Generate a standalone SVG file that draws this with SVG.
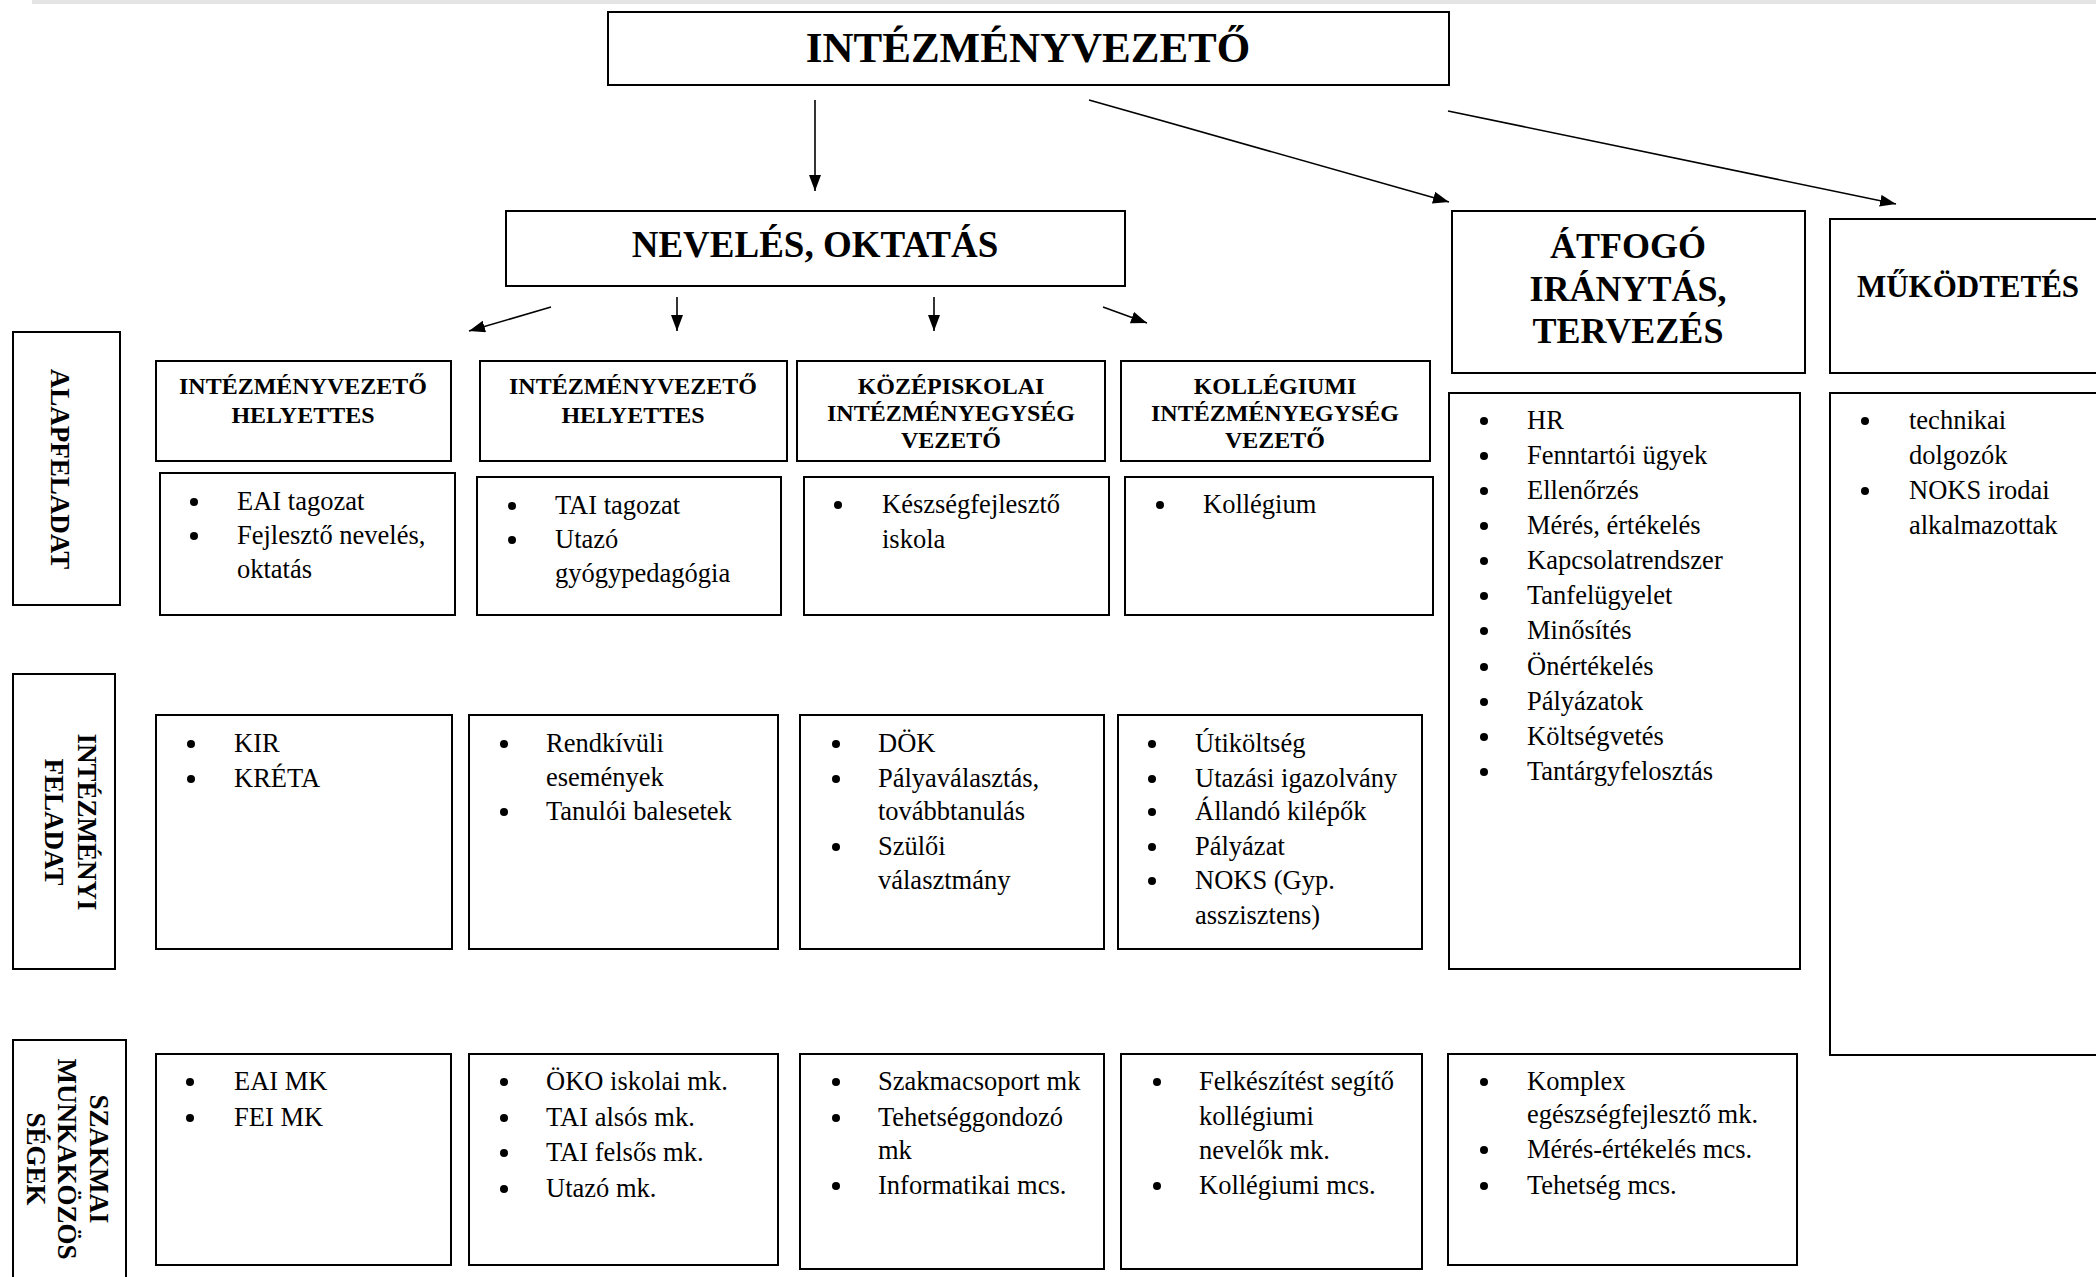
<svg xmlns="http://www.w3.org/2000/svg" width="2096" height="1277" viewBox="0 0 2096 1277">
<defs>
<style>
.box{fill:#fff;stroke:#000;stroke-width:2}
.t{font-family:"Liberation Serif","Times New Roman",serif;fill:#000}
.h{font-weight:bold;text-anchor:middle}
.body{font-size:26.5px}
.lbl{font-family:"Liberation Serif","Times New Roman",serif;font-weight:bold;font-size:27px;text-anchor:middle;fill:#000}
.c{stroke:#000;stroke-width:1.6;fill:none;marker-end:url(#ah)}
.b{fill:#000}
</style>
<marker id="ah" markerUnits="userSpaceOnUse" markerWidth="18" markerHeight="14" refX="16" refY="6" orient="auto">
<path d="M0,0 L16,6 L0,12 z" fill="#000"/>
</marker>
</defs>
<rect width="2096" height="1277" fill="#fff"/>
<rect x="32" y="0" width="2064" height="4" fill="#e4e4e4"/>

<g id="connectors">
<line class="c" x1="815" y1="100" x2="815" y2="191"/>
<line class="c" x1="1089" y1="100" x2="1449" y2="202"/>
<line class="c" x1="1448" y1="111" x2="1896" y2="204"/>
<line class="c" x1="551" y1="307" x2="469" y2="331"/>
<line class="c" x1="677" y1="297" x2="677" y2="331"/>
<line class="c" x1="934" y1="297" x2="934" y2="331"/>
<line class="c" x1="1103" y1="307" x2="1147" y2="323"/>
</g>

<g id="intezmenyvezeto">
<rect class="box" x="608" y="12" width="841" height="73"/>
<text class="t h" x="1028" y="62" font-size="43">INTÉZMÉNYVEZETŐ</text>
</g>
<g id="neveles">
<rect class="box" x="506" y="211" width="619" height="75"/>
<text class="t h" x="815" y="257" font-size="37">NEVELÉS, OKTATÁS</text>
</g>
<g id="atfogo">
<rect class="box" x="1452" y="211" width="353" height="162"/>
<text class="t h" x="1628" y="258" font-size="36">ÁTFOGÓ</text>
<text class="t h" x="1628" y="301" font-size="36">IRÁNYTÁS,</text>
<text class="t h" x="1628" y="343" font-size="36">TERVEZÉS</text>
</g>
<g id="mukodtetes">
<rect class="box" x="1830" y="219" width="290" height="154"/>
<text class="t h" x="1968" y="297" font-size="31">MŰKÖDTETÉS</text>
</g>

<g id="label-alapfeladat">
<rect class="box" x="13" y="332" width="107" height="273"/>
<text class="lbl" transform="translate(51,469) rotate(90)">ALAPFELADAT</text>
</g>
<g id="label-intezmenyi">
<rect class="box" x="13" y="674" width="102" height="295"/>
<text class="lbl" transform="translate(78,822) rotate(90)">INTÉZMÉNYI</text>
<text class="lbl" transform="translate(45,822) rotate(90)">FELADAT</text>
</g>
<g id="label-szakmai">
<rect class="box" x="13" y="1040" width="113" height="260"/>
<text class="lbl" transform="translate(90,1159) rotate(90)">SZAKMAI</text>
<text class="lbl" transform="translate(58,1159) rotate(90)">MUNKAKÖZÖS</text>
<text class="lbl" transform="translate(27,1159) rotate(90)">SÉGEK</text>
</g>

<g id="hdr1">
<rect class="box" x="156" y="361" width="295" height="100"/>
<text class="t h" x="303" y="394" font-size="24">INTÉZMÉNYVEZETŐ</text>
<text class="t h" x="303" y="423" font-size="24">HELYETTES</text>
</g>
<g id="hdr2">
<rect class="box" x="480" y="361" width="307" height="100"/>
<text class="t h" x="633" y="394" font-size="24">INTÉZMÉNYVEZETŐ</text>
<text class="t h" x="633" y="423" font-size="24">HELYETTES</text>
</g>
<g id="hdr3">
<rect class="box" x="797" y="361" width="308" height="100"/>
<text class="t h" x="951" y="394" font-size="24">KÖZÉPISKOLAI</text>
<text class="t h" x="951" y="421" font-size="24">INTÉZMÉNYEGYSÉG</text>
<text class="t h" x="951" y="448" font-size="24">VEZETŐ</text>
</g>
<g id="hdr4">
<rect class="box" x="1121" y="361" width="309" height="100"/>
<text class="t h" x="1275" y="394" font-size="24">KOLLÉGIUMI</text>
<text class="t h" x="1275" y="421" font-size="24">INTÉZMÉNYEGYSÉG</text>
<text class="t h" x="1275" y="448" font-size="24">VEZETŐ</text>
</g>

<g id="alap1">
<rect class="box" x="160" y="473" width="295" height="142"/>
<circle class="b" cx="194" cy="502" r="4"/><circle class="b" cx="194" cy="536" r="4"/>
<text class="t body" x="237" y="510">EAI tagozat</text>
<text class="t body" x="237" y="544">Fejlesztő nevelés,</text>
<text class="t body" x="237" y="578">oktatás</text>
</g>
<g id="alap2">
<rect class="box" x="477" y="477" width="304" height="138"/>
<circle class="b" cx="512" cy="506" r="4"/><circle class="b" cx="512" cy="540" r="4"/>
<text class="t body" x="555" y="514">TAI tagozat</text>
<text class="t body" x="555" y="548">Utazó</text>
<text class="t body" x="555" y="582">gyógypedagógia</text>
</g>
<g id="alap3">
<rect class="box" x="804" y="477" width="305" height="138"/>
<circle class="b" cx="838" cy="505" r="4"/>
<text class="t body" x="882" y="513">Készségfejlesztő</text>
<text class="t body" x="882" y="548">iskola</text>
</g>
<g id="alap4">
<rect class="box" x="1125" y="477" width="308" height="138"/>
<circle class="b" cx="1160" cy="505" r="4"/>
<text class="t body" x="1203" y="513">Kollégium</text>
</g>

<g id="atfogo-lista">
<rect class="box" x="1449" y="393" width="351" height="576"/>
<g class="b">
<circle cx="1484" cy="421" r="4"/><circle cx="1484" cy="456" r="4"/><circle cx="1484" cy="491" r="4"/><circle cx="1484" cy="526" r="4"/><circle cx="1484" cy="561" r="4"/><circle cx="1484" cy="596" r="4"/><circle cx="1484" cy="631" r="4"/><circle cx="1484" cy="667" r="4"/><circle cx="1484" cy="702" r="4"/><circle cx="1484" cy="737" r="4"/><circle cx="1484" cy="772" r="4"/>
</g>
<text class="t body" x="1527" y="429">HR</text>
<text class="t body" x="1527" y="464">Fenntartói ügyek</text>
<text class="t body" x="1527" y="499">Ellenőrzés</text>
<text class="t body" x="1527" y="534">Mérés, értékelés</text>
<text class="t body" x="1527" y="569">Kapcsolatrendszer</text>
<text class="t body" x="1527" y="604">Tanfelügyelet</text>
<text class="t body" x="1527" y="639">Minősítés</text>
<text class="t body" x="1527" y="675">Önértékelés</text>
<text class="t body" x="1527" y="710">Pályázatok</text>
<text class="t body" x="1527" y="745">Költségvetés</text>
<text class="t body" x="1527" y="780">Tantárgyfelosztás</text>
</g>
<g id="mukodtetes-lista">
<rect class="box" x="1830" y="393" width="290" height="662"/>
<circle class="b" cx="1865" cy="421" r="4"/><circle class="b" cx="1865" cy="491" r="4"/>
<text class="t body" x="1909" y="429">technikai</text>
<text class="t body" x="1909" y="464">dolgozók</text>
<text class="t body" x="1909" y="499">NOKS irodai</text>
<text class="t body" x="1909" y="534">alkalmazottak</text>
</g>

<g id="int1">
<rect class="box" x="156" y="715" width="296" height="234"/>
<circle class="b" cx="191" cy="744" r="4"/><circle class="b" cx="191" cy="779" r="4"/>
<text class="t body" x="234" y="752">KIR</text>
<text class="t body" x="234" y="787">KRÉTA</text>
</g>
<g id="int2">
<rect class="box" x="469" y="715" width="309" height="234"/>
<circle class="b" cx="504" cy="744" r="4"/><circle class="b" cx="504" cy="812" r="4"/>
<text class="t body" x="546" y="752">Rendkívüli</text>
<text class="t body" x="546" y="786">események</text>
<text class="t body" x="546" y="820">Tanulói balesetek</text>
</g>
<g id="int3">
<rect class="box" x="800" y="715" width="304" height="234"/>
<circle class="b" cx="836" cy="744" r="4"/><circle class="b" cx="836" cy="779" r="4"/><circle class="b" cx="836" cy="847" r="4"/>
<text class="t body" x="878" y="752">DÖK</text>
<text class="t body" x="878" y="787">Pályaválasztás,</text>
<text class="t body" x="878" y="820">továbbtanulás</text>
<text class="t body" x="878" y="855">Szülői</text>
<text class="t body" x="878" y="889">választmány</text>
</g>
<g id="int4">
<rect class="box" x="1118" y="715" width="304" height="234"/>
<circle class="b" cx="1152" cy="744" r="4"/><circle class="b" cx="1152" cy="779" r="4"/><circle class="b" cx="1152" cy="812" r="4"/><circle class="b" cx="1152" cy="847" r="4"/><circle class="b" cx="1152" cy="881" r="4"/>
<text class="t body" x="1195" y="752">Útiköltség</text>
<text class="t body" x="1195" y="787">Utazási igazolvány</text>
<text class="t body" x="1195" y="820">Állandó kilépők</text>
<text class="t body" x="1195" y="855">Pályázat</text>
<text class="t body" x="1195" y="889">NOKS (Gyp.</text>
<text class="t body" x="1195" y="924">asszisztens)</text>
</g>

<g id="mk1">
<rect class="box" x="156" y="1054" width="295" height="211"/>
<circle class="b" cx="190" cy="1082" r="4"/><circle class="b" cx="190" cy="1118" r="4"/>
<text class="t body" x="234" y="1090">EAI MK</text>
<text class="t body" x="234" y="1126">FEI MK</text>
</g>
<g id="mk2">
<rect class="box" x="469" y="1054" width="309" height="211"/>
<circle class="b" cx="504" cy="1082" r="4"/><circle class="b" cx="504" cy="1118" r="4"/><circle class="b" cx="504" cy="1153" r="4"/><circle class="b" cx="504" cy="1189" r="4"/>
<text class="t body" x="546" y="1090">ÖKO iskolai mk.</text>
<text class="t body" x="546" y="1126">TAI alsós mk.</text>
<text class="t body" x="546" y="1161">TAI felsős mk.</text>
<text class="t body" x="546" y="1197">Utazó mk.</text>
</g>
<g id="mk3">
<rect class="box" x="800" y="1054" width="304" height="215"/>
<circle class="b" cx="836" cy="1082" r="4"/><circle class="b" cx="836" cy="1118" r="4"/><circle class="b" cx="836" cy="1186" r="4"/>
<text class="t body" x="878" y="1090">Szakmacsoport mk</text>
<text class="t body" x="878" y="1126">Tehetséggondozó</text>
<text class="t body" x="878" y="1159">mk</text>
<text class="t body" x="878" y="1194">Informatikai mcs.</text>
</g>
<g id="mk4">
<rect class="box" x="1121" y="1054" width="301" height="215"/>
<circle class="b" cx="1157" cy="1082" r="4"/><circle class="b" cx="1157" cy="1186" r="4"/>
<text class="t body" x="1199" y="1090">Felkészítést segítő</text>
<text class="t body" x="1199" y="1125">kollégiumi</text>
<text class="t body" x="1199" y="1159">nevelők mk.</text>
<text class="t body" x="1199" y="1194">Kollégiumi mcs.</text>
</g>
<g id="mk5">
<rect class="box" x="1448" y="1054" width="349" height="211"/>
<circle class="b" cx="1484" cy="1082" r="4"/><circle class="b" cx="1484" cy="1150" r="4"/><circle class="b" cx="1484" cy="1186" r="4"/>
<text class="t body" x="1527" y="1090">Komplex</text>
<text class="t body" x="1527" y="1123">egészségfejlesztő mk.</text>
<text class="t body" x="1527" y="1158">Mérés-értékelés mcs.</text>
<text class="t body" x="1527" y="1194">Tehetség mcs.</text>
</g>
</svg>
